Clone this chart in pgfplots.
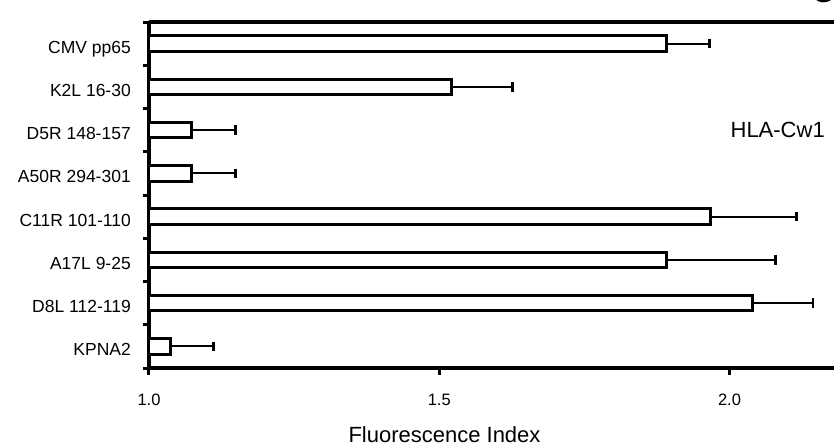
\documentclass[border=0pt]{standalone}
\usepackage{pgfplots}
\usepackage{pgfplotstable}
\pgfplotsset{compat=1.18}
\usepackage{fontspec}
\setmainfont{Liberation Sans}
\pgfplotstableread{
y val hi
7.5 1.891 1.965
6.5 1.521 1.626
5.5 1.074 1.149
4.5 1.074 1.149
3.5 1.967 2.115
2.5 1.891 2.079
1.5 2.040 2.144
0.5 1.037 1.111
}\data
\begin{document}
\begin{tikzpicture}
\useasboundingbox (-149pt,-79pt) rectangle (685pt,368pt);
\begin{axis}[
  at={(0pt,0pt)}, anchor=south west,
  scale only axis, width=685pt, height=346pt,
  xmin=1, xmax=2.18, ymin=0, ymax=8,
  x coord trafo/.code={\pgfmathparse{#1-1}},
  x coord inv trafo/.code={\pgfmathparse{#1+1}},
  axis lines*=left,
  axis line style={-, line width=3.3pt},
  clip=false,
  tick align=outside,
  major tick length=6.5pt, minor tick length=6.5pt,
  tick style={line width=3pt, black},
  /pgf/number format/assume math mode=true,
  xtick={1,1.5,2}, xticklabels={1.0,1.5,2.0},
  xticklabel style={font=\fontsize{16.5}{18}\selectfont, anchor=base, inner sep=0pt, yshift=-30.5pt},
  ytick={0,1,...,8}, yticklabels={,,,,,,,,},
  extra y ticks={0.5,1.5,...,7.5},
  extra y tick labels={KPNA2, D8L 112-119, A17L 9-25, C11R 101-110, A50R 294-301, D5R 148-157, K2L 16-30, CMV pp65},
  extra y tick style={tick style={draw=none}, yticklabel style={font=\fontsize{17.5}{19}\selectfont, anchor=base east, inner sep=0pt, xshift=-11.5pt, yshift=-9.4pt}},
  xlabel={Fluorescence Index},
  xlabel style={font=\fontsize{22}{24}\selectfont, at={(axis description cs:0.4314,0)}, anchor=base, inner sep=0pt, yshift=-74pt},
]
\addplot[xbar, bar width=15.5pt, draw=black, fill=white, line width=3pt,
  error bars/.cd, x dir=plus, x explicit,
  error bar style={line width=2.2pt, black},
  error mark options={rotate=90, line width=2.6pt, mark size=4.8pt, black}]
  table[x=val, y=y, x error expr=\thisrow{hi}-\thisrow{val}] {\data};
\draw[line width=3.3pt] (rel axis cs:0,1) -- (rel axis cs:1,1);
\node[font=\fontsize{22}{24}\selectfont, inner sep=0pt] at (axis cs:2.083,5.5) {HLA-Cw1};
\end{axis}
\node[anchor=base west, inner sep=0pt, font=\fontsize{30}{32}\selectfont] at (662.5pt,365.5pt) {G};
\end{tikzpicture}
\end{document}
